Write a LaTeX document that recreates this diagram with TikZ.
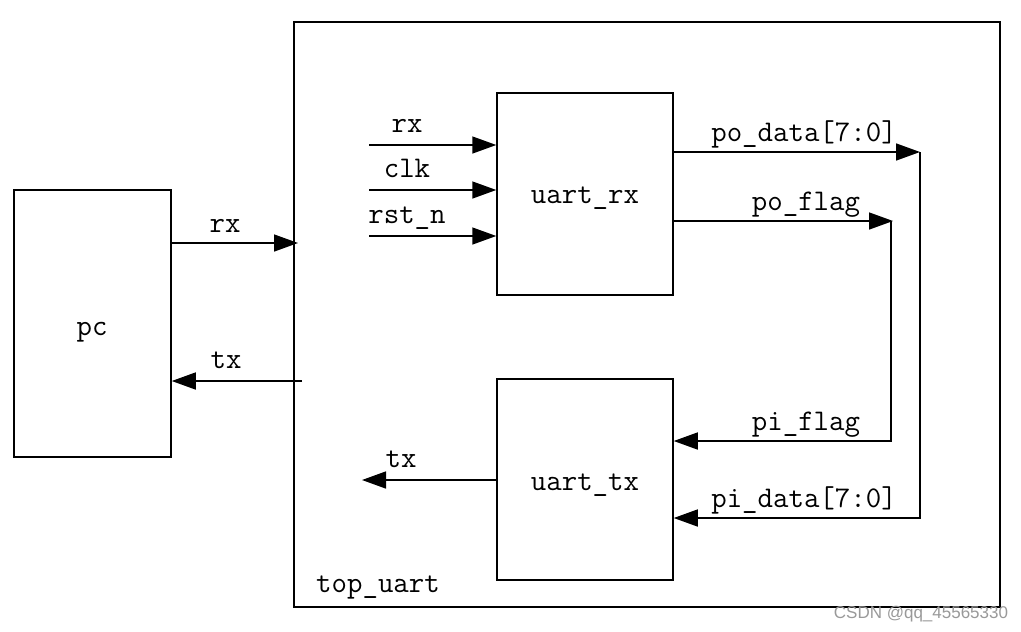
\documentclass[tikz,border=0pt]{standalone}
\usepackage{fontspec}
\usetikzlibrary{positioning}
\usetikzlibrary{arrows.meta}
\newfontfamily\wmfont{Liberation Sans}

\begin{document}
\begin{tikzpicture}[x=1pt, y=-1pt, line width=1.5pt,
    block/.style={draw, rectangle, inner sep=0pt},
    sig/.style={-{Triangle[length=24pt, width=17pt]}},
    lbl/.style={anchor=base, inner sep=0pt, font=\ttfamily\fontsize{30}{30}\selectfont}]
            \useasboundingbox (0,0) rectangle (1021,632);
            % Blocks
            \node[block, minimum width=157pt, minimum height=267pt] (pc) at (92.5,323.5) {};
            \node[block, minimum width=706pt, minimum height=585pt] (top) at (647,314.5) {};
            \node[block, minimum width=176pt, minimum height=202pt] (urx) at (585,194) {};
            \node[block, minimum width=176pt, minimum height=201pt] (utx) at (585,479.5) {};
            \node[lbl] (pclbl) at (92,335) {pc};
            \node[lbl] (toplbl) at (378,592) {top\_uart};
            \node[lbl] (urxlbl) at (585,203) {uart\_rx};
            \node[lbl] (utxlbl) at (585,490) {uart\_tx};
            % Ends of the signal lines
            \coordinate (toprx) at (298,243);
            \coordinate (toptx) at (302,381);
            \coordinate (rxin) at (369,145);
            \coordinate (clkin) at (369,190);
            \coordinate (rstin) at (369,236);
            \coordinate (txout) at (362,480);
            \coordinate (pdata) at (920,152);
            \coordinate (pdatab) at (920,518);
            \coordinate (pflag) at (893,221);
            \coordinate (pflagt) at (891,221);
            \coordinate (pflagb) at (891,441);
            % pc <-> top_uart
            \draw[sig] (toprx -| pc.east) -- (toprx);
            \draw[sig] (toptx) -- (toptx -| pc.east);
            \node[lbl] (rxlbl) at (225,232) {rx};
            \node[lbl] (txlbl) at (226,368) {tx};
            % Inputs of uart_rx
            \draw[sig] (rxin) -- (rxin -| urx.west);
            \draw[sig] (clkin) -- (clkin -| urx.west);
            \draw[sig] (rstin) -- (rstin -| urx.west);
            \node[lbl] (rxinlbl) at (407,132) {rx};
            \node[lbl] (clklbl) at (407,177) {clk};
            \node[lbl] (rstlbl) at (407,223) {rst\_n};
            % Output of uart_tx
            \draw[sig] (txout -| utx.west) -- (txout);
            \node[lbl] (txoutlbl) at (401,467) {tx};
            % uart_rx -> uart_tx loop back
            \draw[sig] (pdata -| urx.east) -- (pdata);
            \draw[sig] (pdata) -- (pdatab) -- (pdatab -| utx.east);
            \draw[sig] (pflag -| urx.east) -- (pflag);
            \draw[sig] (pflagt) -- (pflagb) -- (pflagb -| utx.east);
            \node[lbl] (pdlbl) at (804,141) {po\_data[7:0]};
            \node[lbl] (pflbl) at (806,210) {po\_flag};
            \node[lbl] (piflbl) at (806,430) {pi\_flag};
            \node[lbl] (pidlbl) at (804,507) {pi\_data[7:0]};
            % Watermark
            \node[anchor=base, inner sep=0pt, text=black!40, font=\wmfont\fontsize{17}{17}\selectfont] (wm) at (921,618) {CSDN @qq\_45565330};
        \end{tikzpicture}
\end{document}
